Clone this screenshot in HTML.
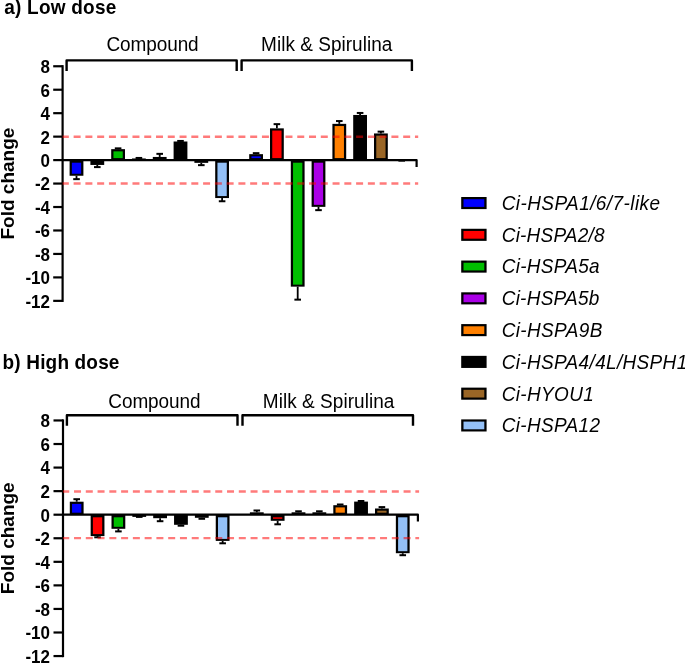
<!DOCTYPE html>
<html><head><meta charset="utf-8"><style>
html,body{margin:0;padding:0;background:#fff;width:685px;height:663px;overflow:hidden}
svg{display:block;will-change:transform}
text{font-family:"Liberation Sans", sans-serif;fill:#000}
</style></head><body>
<svg width="685" height="663" viewBox="0 0 685 663">
<rect width="685" height="663" fill="#fff"/>
<text transform="translate(4.15,14.00) scale(1,1.045)" font-size="19" font-weight="bold" font-style="normal" text-anchor="start" textLength="112.20" lengthAdjust="spacing">a) Low dose</text>
<text transform="translate(106.47,51.00) scale(1,1.06)" font-size="19" font-weight="normal" font-style="normal" text-anchor="start" textLength="92.20" lengthAdjust="spacing">Compound</text>
<text transform="translate(261.11,50.80) scale(1,1.06)" font-size="19" font-weight="normal" font-style="normal" text-anchor="start" textLength="131.19" lengthAdjust="spacing">Milk &amp; Spirulina</text>
<path d="M66.6,71.0 V60.4 H236.7 V71.0" fill="none" stroke="#000" stroke-width="2.4000000000000004" stroke-linejoin="round"/>
<path d="M241.6,71.0 V60.4 H411.9 V71.0" fill="none" stroke="#000" stroke-width="2.4000000000000004" stroke-linejoin="round"/>
<rect x="69.60" y="160.10" width="13.8" height="15.65" fill="#000"/>
<rect x="71.85" y="162.70" width="9.30" height="11.05" fill="#0000ff"/>
<path d="M76.50,175.75 V179.15" stroke="#000" stroke-width="1.8"/>
<path d="M73.20,179.15 H79.80" stroke="#000" stroke-width="2.0"/>
<rect x="90.40" y="160.10" width="13.8" height="4.85" fill="#000"/>
<path d="M97.30,164.95 V167.10" stroke="#000" stroke-width="1.8"/>
<path d="M94.00,167.10 H100.60" stroke="#000" stroke-width="2.0"/>
<rect x="111.20" y="149.15" width="13.8" height="10.95" fill="#000"/>
<rect x="113.45" y="151.35" width="9.30" height="6.75" fill="#00be00"/>
<path d="M118.10,149.15 V148.35" stroke="#000" stroke-width="1.8"/>
<path d="M114.80,148.35 H121.40" stroke="#000" stroke-width="2.0"/>
<rect x="132.00" y="158.45" width="13.8" height="1.65" fill="#000"/>
<path d="M138.90,158.45 V157.95" stroke="#000" stroke-width="1.8"/>
<path d="M135.60,157.95 H142.20" stroke="#000" stroke-width="2.0"/>
<rect x="152.80" y="156.95" width="13.8" height="3.15" fill="#000"/>
<path d="M159.70,156.95 V153.85" stroke="#000" stroke-width="1.8"/>
<path d="M156.40,153.85 H163.00" stroke="#000" stroke-width="2.0"/>
<rect x="173.60" y="141.50" width="13.8" height="18.60" fill="#000"/>
<rect x="175.85" y="143.70" width="9.30" height="14.40" fill="#000000"/>
<path d="M180.50,141.50 V140.95" stroke="#000" stroke-width="1.8"/>
<path d="M177.20,140.95 H183.80" stroke="#000" stroke-width="2.0"/>
<rect x="194.40" y="160.10" width="13.8" height="2.75" fill="#000"/>
<path d="M201.30,162.85 V165.15" stroke="#000" stroke-width="1.8"/>
<path d="M198.00,165.15 H204.60" stroke="#000" stroke-width="2.0"/>
<rect x="215.20" y="160.10" width="13.8" height="37.95" fill="#000"/>
<rect x="217.45" y="162.70" width="9.30" height="33.35" fill="#93c0f7"/>
<path d="M222.10,198.05 V201.25" stroke="#000" stroke-width="1.8"/>
<path d="M218.80,201.25 H225.40" stroke="#000" stroke-width="2.0"/>
<rect x="249.20" y="154.15" width="13.8" height="5.95" fill="#000"/>
<rect x="251.45" y="156.35" width="9.30" height="1.75" fill="#0000ff"/>
<path d="M256.10,154.15 V153.15" stroke="#000" stroke-width="1.8"/>
<path d="M252.80,153.15 H259.40" stroke="#000" stroke-width="2.0"/>
<rect x="270.00" y="128.35" width="13.8" height="31.75" fill="#000"/>
<rect x="272.25" y="130.55" width="9.30" height="27.55" fill="#ff0000"/>
<path d="M276.90,128.35 V124.15" stroke="#000" stroke-width="1.8"/>
<path d="M273.60,124.15 H280.20" stroke="#000" stroke-width="2.0"/>
<rect x="290.80" y="160.10" width="13.8" height="126.55" fill="#000"/>
<rect x="293.05" y="162.70" width="9.30" height="121.95" fill="#00be00"/>
<path d="M297.70,286.65 V299.65" stroke="#000" stroke-width="1.8"/>
<path d="M294.40,299.65 H301.00" stroke="#000" stroke-width="2.0"/>
<rect x="311.60" y="160.10" width="13.8" height="46.75" fill="#000"/>
<rect x="313.85" y="162.70" width="9.30" height="42.15" fill="#aa00e6"/>
<path d="M318.50,206.85 V210.15" stroke="#000" stroke-width="1.8"/>
<path d="M315.20,210.15 H321.80" stroke="#000" stroke-width="2.0"/>
<rect x="332.40" y="123.85" width="13.8" height="36.25" fill="#000"/>
<rect x="334.65" y="126.05" width="9.30" height="32.05" fill="#ff8000"/>
<path d="M339.30,123.85 V121.05" stroke="#000" stroke-width="1.8"/>
<path d="M336.00,121.05 H342.60" stroke="#000" stroke-width="2.0"/>
<rect x="353.20" y="114.95" width="13.8" height="45.15" fill="#000"/>
<rect x="355.45" y="117.15" width="9.30" height="40.95" fill="#000000"/>
<path d="M360.10,114.95 V112.95" stroke="#000" stroke-width="1.8"/>
<path d="M356.80,112.95 H363.40" stroke="#000" stroke-width="2.0"/>
<rect x="374.00" y="133.45" width="13.8" height="26.65" fill="#000"/>
<rect x="376.25" y="135.65" width="9.30" height="22.45" fill="#9a6626"/>
<path d="M380.90,133.45 V131.65" stroke="#000" stroke-width="1.8"/>
<path d="M377.60,131.65 H384.20" stroke="#000" stroke-width="2.0"/>
<path d="M401.70,160.10 V160.65" stroke="#000" stroke-width="1.8"/>
<path d="M398.40,160.65 H405.00" stroke="#000" stroke-width="2.0"/>
<path d="M62.6,65.16 V301.96" stroke="#000" stroke-width="2.2"/>
<path d="M53.2,66.26 H62.6" stroke="#000" stroke-width="2.2"/>
<text transform="translate(50.00,73.16) scale(1,1.07)" font-size="17" font-weight="bold" font-style="normal" text-anchor="end">8</text>
<path d="M53.2,89.72 H62.6" stroke="#000" stroke-width="2.2"/>
<text transform="translate(50.00,96.62) scale(1,1.07)" font-size="17" font-weight="bold" font-style="normal" text-anchor="end">6</text>
<path d="M53.2,113.18 H62.6" stroke="#000" stroke-width="2.2"/>
<text transform="translate(50.00,120.08) scale(1,1.07)" font-size="17" font-weight="bold" font-style="normal" text-anchor="end">4</text>
<path d="M53.2,136.64 H62.6" stroke="#000" stroke-width="2.2"/>
<text transform="translate(50.00,143.54) scale(1,1.07)" font-size="17" font-weight="bold" font-style="normal" text-anchor="end">2</text>
<path d="M53.2,160.10 H62.6" stroke="#000" stroke-width="2.2"/>
<text transform="translate(50.00,167.00) scale(1,1.07)" font-size="17" font-weight="bold" font-style="normal" text-anchor="end">0</text>
<path d="M53.2,183.56 H62.6" stroke="#000" stroke-width="2.2"/>
<text transform="translate(50.00,190.46) scale(1,1.07)" font-size="17" font-weight="bold" font-style="normal" text-anchor="end">-2</text>
<path d="M53.2,207.02 H62.6" stroke="#000" stroke-width="2.2"/>
<text transform="translate(50.00,213.92) scale(1,1.07)" font-size="17" font-weight="bold" font-style="normal" text-anchor="end">-4</text>
<path d="M53.2,230.48 H62.6" stroke="#000" stroke-width="2.2"/>
<text transform="translate(50.00,237.38) scale(1,1.07)" font-size="17" font-weight="bold" font-style="normal" text-anchor="end">-6</text>
<path d="M53.2,253.94 H62.6" stroke="#000" stroke-width="2.2"/>
<text transform="translate(50.00,260.84) scale(1,1.07)" font-size="17" font-weight="bold" font-style="normal" text-anchor="end">-8</text>
<path d="M53.2,277.40 H62.6" stroke="#000" stroke-width="2.2"/>
<text transform="translate(50.00,284.30) scale(1,1.07)" font-size="17" font-weight="bold" font-style="normal" text-anchor="end">-10</text>
<path d="M53.2,300.86 H62.6" stroke="#000" stroke-width="2.2"/>
<text transform="translate(50.00,307.76) scale(1,1.07)" font-size="17" font-weight="bold" font-style="normal" text-anchor="end">-12</text>
<path d="M62.6,136.75 H418.2" stroke="rgba(255,0,0,0.52)" stroke-width="2.4" stroke-dasharray="7.0 4.77" stroke-dashoffset="0.75"/>
<path d="M62.6,183.55 H418.2" stroke="rgba(255,0,0,0.52)" stroke-width="2.4" stroke-dasharray="7.0 4.77" stroke-dashoffset="0.75"/>
<path d="M62.6,160.10 H416.6 V167.00" stroke="#000" stroke-width="2.2" fill="none" stroke-linejoin="round"/>
<text transform="translate(14.20,183.56) rotate(-90)" x="0" y="0" font-size="19" font-weight="bold" text-anchor="middle">Fold change</text>
<text transform="translate(2.60,368.60) scale(1,1.045)" font-size="19" font-weight="bold" font-style="normal" text-anchor="start" textLength="116.85" lengthAdjust="spacing">b) High dose</text>
<text transform="translate(108.34,407.80) scale(1,1.06)" font-size="19" font-weight="normal" font-style="normal" text-anchor="start" textLength="92.19" lengthAdjust="spacing">Compound</text>
<text transform="translate(262.83,407.80) scale(1,1.06)" font-size="19" font-weight="normal" font-style="normal" text-anchor="start" textLength="131.55" lengthAdjust="spacing">Milk &amp; Spirulina</text>
<path d="M66.9,425.8 V415.2 H237.5 V425.8" fill="none" stroke="#000" stroke-width="2.4000000000000004" stroke-linejoin="round"/>
<path d="M242.5,425.8 V415.2 H413.0 V425.8" fill="none" stroke="#000" stroke-width="2.4000000000000004" stroke-linejoin="round"/>
<rect x="69.80" y="501.70" width="13.8" height="13.00" fill="#000"/>
<rect x="72.05" y="503.90" width="9.30" height="8.80" fill="#0000ff"/>
<path d="M76.70,501.70 V499.20" stroke="#000" stroke-width="1.8"/>
<path d="M73.40,499.20 H80.00" stroke="#000" stroke-width="2.0"/>
<rect x="90.65" y="514.70" width="13.8" height="21.40" fill="#000"/>
<rect x="92.90" y="517.30" width="9.30" height="16.80" fill="#ff0000"/>
<path d="M97.55,536.10 V537.30" stroke="#000" stroke-width="1.8"/>
<path d="M94.25,537.30 H100.85" stroke="#000" stroke-width="2.0"/>
<rect x="111.50" y="514.70" width="13.8" height="14.10" fill="#000"/>
<rect x="113.75" y="517.30" width="9.30" height="9.50" fill="#00be00"/>
<path d="M118.40,528.80 V531.40" stroke="#000" stroke-width="1.8"/>
<path d="M115.10,531.40 H121.70" stroke="#000" stroke-width="2.0"/>
<rect x="132.35" y="514.70" width="13.8" height="2.20" fill="#000"/>
<path d="M139.25,516.90 V516.90" stroke="#000" stroke-width="1.8"/>
<path d="M135.95,516.90 H142.55" stroke="#000" stroke-width="2.0"/>
<rect x="153.20" y="514.70" width="13.8" height="3.50" fill="#000"/>
<path d="M160.10,518.20 V521.20" stroke="#000" stroke-width="1.8"/>
<path d="M156.80,521.20 H163.40" stroke="#000" stroke-width="2.0"/>
<rect x="174.05" y="514.70" width="13.8" height="10.10" fill="#000"/>
<rect x="176.30" y="517.30" width="9.30" height="5.50" fill="#000000"/>
<path d="M180.95,524.80 V525.70" stroke="#000" stroke-width="1.8"/>
<path d="M177.65,525.70 H184.25" stroke="#000" stroke-width="2.0"/>
<rect x="194.90" y="514.70" width="13.8" height="3.10" fill="#000"/>
<path d="M201.80,517.80 V518.80" stroke="#000" stroke-width="1.8"/>
<path d="M198.50,518.80 H205.10" stroke="#000" stroke-width="2.0"/>
<rect x="215.75" y="514.70" width="13.8" height="26.20" fill="#000"/>
<rect x="218.00" y="517.30" width="9.30" height="21.60" fill="#93c0f7"/>
<path d="M222.65,540.90 V543.30" stroke="#000" stroke-width="1.8"/>
<path d="M219.35,543.30 H225.95" stroke="#000" stroke-width="2.0"/>
<rect x="249.90" y="512.30" width="13.8" height="2.40" fill="#000"/>
<path d="M256.80,512.30 V510.50" stroke="#000" stroke-width="1.8"/>
<path d="M253.50,510.50 H260.10" stroke="#000" stroke-width="2.0"/>
<rect x="270.75" y="514.70" width="13.8" height="6.10" fill="#000"/>
<rect x="273.00" y="517.30" width="9.30" height="1.50" fill="#ff0000"/>
<path d="M277.65,520.80 V524.30" stroke="#000" stroke-width="1.8"/>
<path d="M274.35,524.30 H280.95" stroke="#000" stroke-width="2.0"/>
<rect x="291.60" y="512.30" width="13.8" height="2.40" fill="#000"/>
<path d="M298.50,512.30 V511.30" stroke="#000" stroke-width="1.8"/>
<path d="M295.20,511.30 H301.80" stroke="#000" stroke-width="2.0"/>
<rect x="312.45" y="512.30" width="13.8" height="2.40" fill="#000"/>
<path d="M319.35,512.30 V511.30" stroke="#000" stroke-width="1.8"/>
<path d="M316.05,511.30 H322.65" stroke="#000" stroke-width="2.0"/>
<rect x="333.30" y="505.20" width="13.8" height="9.50" fill="#000"/>
<rect x="335.55" y="507.40" width="9.30" height="5.30" fill="#ff8000"/>
<path d="M340.20,505.20 V504.50" stroke="#000" stroke-width="1.8"/>
<path d="M336.90,504.50 H343.50" stroke="#000" stroke-width="2.0"/>
<rect x="354.15" y="501.60" width="13.8" height="13.10" fill="#000"/>
<rect x="356.40" y="503.80" width="9.30" height="8.90" fill="#000000"/>
<path d="M361.05,501.60 V501.00" stroke="#000" stroke-width="1.8"/>
<path d="M357.75,501.00 H364.35" stroke="#000" stroke-width="2.0"/>
<rect x="375.00" y="508.50" width="13.8" height="6.20" fill="#000"/>
<rect x="377.25" y="510.70" width="9.30" height="2.00" fill="#9a6626"/>
<path d="M381.90,508.50 V507.10" stroke="#000" stroke-width="1.8"/>
<path d="M378.60,507.10 H385.20" stroke="#000" stroke-width="2.0"/>
<rect x="395.85" y="514.70" width="13.8" height="38.50" fill="#000"/>
<rect x="398.10" y="517.30" width="9.30" height="33.90" fill="#93c0f7"/>
<path d="M402.75,553.20 V555.20" stroke="#000" stroke-width="1.8"/>
<path d="M399.45,555.20 H406.05" stroke="#000" stroke-width="2.0"/>
<path d="M63.0,419.36 V657.16" stroke="#000" stroke-width="2.2"/>
<path d="M53.5,420.46 H63.0" stroke="#000" stroke-width="2.2"/>
<text transform="translate(50.00,427.36) scale(1,1.07)" font-size="17" font-weight="bold" font-style="normal" text-anchor="end">8</text>
<path d="M53.5,444.02 H63.0" stroke="#000" stroke-width="2.2"/>
<text transform="translate(50.00,450.92) scale(1,1.07)" font-size="17" font-weight="bold" font-style="normal" text-anchor="end">6</text>
<path d="M53.5,467.58 H63.0" stroke="#000" stroke-width="2.2"/>
<text transform="translate(50.00,474.48) scale(1,1.07)" font-size="17" font-weight="bold" font-style="normal" text-anchor="end">4</text>
<path d="M53.5,491.14 H63.0" stroke="#000" stroke-width="2.2"/>
<text transform="translate(50.00,498.04) scale(1,1.07)" font-size="17" font-weight="bold" font-style="normal" text-anchor="end">2</text>
<path d="M53.5,514.70 H63.0" stroke="#000" stroke-width="2.2"/>
<text transform="translate(50.00,521.60) scale(1,1.07)" font-size="17" font-weight="bold" font-style="normal" text-anchor="end">0</text>
<path d="M53.5,538.26 H63.0" stroke="#000" stroke-width="2.2"/>
<text transform="translate(50.00,545.16) scale(1,1.07)" font-size="17" font-weight="bold" font-style="normal" text-anchor="end">-2</text>
<path d="M53.5,561.82 H63.0" stroke="#000" stroke-width="2.2"/>
<text transform="translate(50.00,568.72) scale(1,1.07)" font-size="17" font-weight="bold" font-style="normal" text-anchor="end">-4</text>
<path d="M53.5,585.38 H63.0" stroke="#000" stroke-width="2.2"/>
<text transform="translate(50.00,592.28) scale(1,1.07)" font-size="17" font-weight="bold" font-style="normal" text-anchor="end">-6</text>
<path d="M53.5,608.94 H63.0" stroke="#000" stroke-width="2.2"/>
<text transform="translate(50.00,615.84) scale(1,1.07)" font-size="17" font-weight="bold" font-style="normal" text-anchor="end">-8</text>
<path d="M53.5,632.50 H63.0" stroke="#000" stroke-width="2.2"/>
<text transform="translate(50.00,639.40) scale(1,1.07)" font-size="17" font-weight="bold" font-style="normal" text-anchor="end">-10</text>
<path d="M53.5,656.06 H63.0" stroke="#000" stroke-width="2.2"/>
<text transform="translate(50.00,662.96) scale(1,1.07)" font-size="17" font-weight="bold" font-style="normal" text-anchor="end">-12</text>
<path d="M63.0,491.50 H419.1" stroke="rgba(255,0,0,0.52)" stroke-width="2.4" stroke-dasharray="7.0 4.77" stroke-dashoffset="0.75"/>
<path d="M63.0,538.10 H419.1" stroke="rgba(255,0,0,0.52)" stroke-width="2.4" stroke-dasharray="7.0 4.77" stroke-dashoffset="0.75"/>
<path d="M63.0,514.70 H417.9 V521.60" stroke="#000" stroke-width="2.2" fill="none" stroke-linejoin="round"/>
<text transform="translate(14.20,538.26) rotate(-90)" x="0" y="0" font-size="19" font-weight="bold" text-anchor="middle">Fold change</text>
<rect x="461.2" y="197.00" width="25.4" height="12.1" fill="#000"/>
<rect x="463.5" y="199.20" width="20.8" height="7.7" fill="#0000ff"/>
<text transform="translate(501.72,209.70) scale(1,1.1)" font-size="19" font-weight="normal" font-style="italic" text-anchor="start" textLength="158.28" lengthAdjust="spacing">Ci-HSPA1/6/7-like</text>
<rect x="461.2" y="228.77" width="25.4" height="12.1" fill="#000"/>
<rect x="463.5" y="230.97" width="20.8" height="7.7" fill="#ff0000"/>
<text transform="translate(501.72,241.50) scale(1,1.1)" font-size="19" font-weight="normal" font-style="italic" text-anchor="start" textLength="102.87" lengthAdjust="spacing">Ci-HSPA2/8</text>
<rect x="461.2" y="260.54" width="25.4" height="12.1" fill="#000"/>
<rect x="463.5" y="262.74" width="20.8" height="7.7" fill="#00be00"/>
<text transform="translate(501.72,273.30) scale(1,1.1)" font-size="19" font-weight="normal" font-style="italic" text-anchor="start" textLength="97.82" lengthAdjust="spacing">Ci-HSPA5a</text>
<rect x="461.2" y="292.31" width="25.4" height="12.1" fill="#000"/>
<rect x="463.5" y="294.51" width="20.8" height="7.7" fill="#aa00e6"/>
<text transform="translate(501.72,305.10) scale(1,1.1)" font-size="19" font-weight="normal" font-style="italic" text-anchor="start" textLength="97.62" lengthAdjust="spacing">Ci-HSPA5b</text>
<rect x="461.2" y="324.08" width="25.4" height="12.1" fill="#000"/>
<rect x="463.5" y="326.28" width="20.8" height="7.7" fill="#ff8000"/>
<text transform="translate(501.72,336.90) scale(1,1.1)" font-size="19" font-weight="normal" font-style="italic" text-anchor="start" textLength="100.63" lengthAdjust="spacing">Ci-HSPA9B</text>
<rect x="461.2" y="355.85" width="25.4" height="12.1" fill="#000"/>
<rect x="463.5" y="358.05" width="20.8" height="7.7" fill="#000000"/>
<text transform="translate(501.72,368.70) scale(1,1.1)" font-size="19" font-weight="normal" font-style="italic" text-anchor="start" textLength="185.48" lengthAdjust="spacing">Ci-HSPA4/4L/HSPH1</text>
<rect x="461.2" y="387.62" width="25.4" height="12.1" fill="#000"/>
<rect x="463.5" y="389.82" width="20.8" height="7.7" fill="#9a6626"/>
<text transform="translate(501.72,400.50) scale(1,1.1)" font-size="19" font-weight="normal" font-style="italic" text-anchor="start" textLength="92.06" lengthAdjust="spacing">Ci-HYOU1</text>
<rect x="461.2" y="419.39" width="25.4" height="12.1" fill="#000"/>
<rect x="463.5" y="421.59" width="20.8" height="7.7" fill="#93c0f7"/>
<text transform="translate(501.72,432.30) scale(1,1.1)" font-size="19" font-weight="normal" font-style="italic" text-anchor="start" textLength="98.29" lengthAdjust="spacing">Ci-HSPA12</text>
</svg>
</body></html>
